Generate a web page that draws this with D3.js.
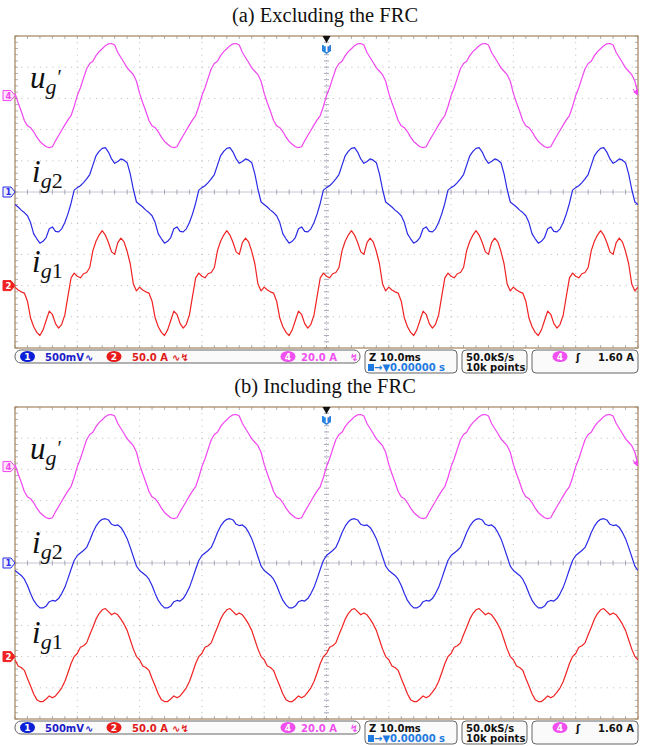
<!DOCTYPE html>
<html>
<head>
<meta charset="utf-8">
<script src="https://cdn.jsdelivr.net/npm/d3@7/dist/d3.min.js"></script>
<style>
  body { margin: 0; background: #fff; }
  svg text { font-family: "DejaVu Sans", sans-serif; }
</style>
</head>
<body>
<div id="graph"></div>
<script>
// one 20 ms grid cycle, sampled every 0.5 ms from the ch4 rising zero crossing (trigger)
var cycleMs = [0, 0.5, 1, 1.5, 2, 2.5, 3, 3.5, 4, 4.5, 5, 5.5, 6, 6.5, 7, 7.5, 8, 8.5, 9, 9.5,
               10, 10.5, 11, 11.5, 12, 12.5, 13, 13.5, 14, 14.5, 15, 15.5, 16, 16.5, 17, 17.5, 18, 18.5, 19, 19.5]

// (a) excluding the FRC
var ugA_a  = [0, 5, 11.2, 17.2, 20.6, 22, 25.6, 28.2, 30, 32, 33.2, 33.4, 32.4, 27.6, 24.4, 21.2, 17.8, 15.6, 13.4, 9.2,
              1.4, -4.6, -10, -16, -19.4, -20.6, -23.2, -26.6, -29.4, -31.2, -32.8, -33.4, -32.8, -29, -25.6, -22.2, -18.8, -15.6, -12.8, -7]
var ig2V_a = [0.07, 0.10, 0.15, 0.21, 0.28, 0.43, 0.58, 0.65, 0.70, 0.71, 0.64, 0.53, 0.46, 0.49, 0.53, 0.51, 0.47, 0.29, 0.04, -0.16,
              -0.20, -0.24, -0.29, -0.33, -0.38, -0.49, -0.67, -0.75, -0.82, -0.79, -0.73, -0.59, -0.56, -0.63, -0.64, -0.59, -0.49, -0.35, -0.18, 0.03]
var ig1A_a = [15, 12.5, 19, 21, 29, 56, 71, 81, 88, 81, 69, 54, 50, 69, 76, 70, 55, 35, 2.5, -8.5,
              -2.5, -7, -10, -12, -25, -52, -66, -75, -80, -71, -56, -41, -46, -61, -68, -62, -47, -17, 12.5, 20]

// (b) including the FRC
var ugA_b  = [0, 5, 11.2, 17.2, 20.6, 22, 25.6, 28.2, 30, 32, 33.2, 33.4, 32.4, 27.6, 24.4, 21.2, 17.8, 15.6, 13.4, 9.2,
              1.4, -4.6, -10, -16, -19.4, -20.6, -23.2, -26.6, -29.4, -31.2, -32.8, -33.4, -32.8, -29, -25.6, -22.2, -18.8, -15.6, -12.8, -7]
var ig2V_b = [0.12, 0.16, 0.20, 0.25, 0.36, 0.49, 0.59, 0.66, 0.70, 0.71, 0.69, 0.62, 0.60, 0.61, 0.57, 0.49, 0.39, 0.25, 0.10, -0.05,
              -0.12, -0.16, -0.20, -0.26, -0.36, -0.49, -0.60, -0.67, -0.72, -0.72, -0.69, -0.62, -0.60, -0.61, -0.57, -0.49, -0.39, -0.25, -0.10, 0.04]
var ig1A_b = [5, 15, 17.5, 22, 35, 47, 60, 69, 75, 77, 72, 67, 70, 67, 60, 52, 42, 27, 12, 0,
              -5, -15, -17.5, -22, -35, -47, -60, -69, -72, -72, -68, -63, -66, -63, -57, -50, -40, -26, -11, 0]

var titles = ["(a) Excluding the FRC", "(b) Including the FRC"]

// channel settings: per-division scale and ground marker offset (divisions above centre)
var channels = [
  { key: "ug",  num: "4", color: "#f046f0", perDiv: 20,  refDiv: 3.09 },
  { key: "ig2", num: "1", color: "#2a2ae6", perDiv: 0.5, refDiv: 0 },
  { key: "ig1", num: "2", color: "#f02222", perDiv: 50,  refDiv: -3.0 }
]

var width = 650, height = 746
var plotL = 15, plotR = 638, plotH = 312
var divX = (plotR - plotL) / 10, divY = plotH / 10

var svg = d3.select("#graph").append("svg")
  .attr("width", width).attr("height", height)

var x = d3.scaleLinear().domain([-50, 50]).range([plotL, plotR])
var sampleT = d3.range(-50, 50.001, 0.5)

function cycleValue(arr, t) {
  var ph = ((t % 20) + 20) % 20
  return arr[cycleMs.indexOf(Math.round(ph * 2) / 2) % cycleMs.length]
}

var panels = [
  { top: 36,  title: titles[0], ug: ugA_a, ig2: ig2V_a, ig1: ig1A_a },
  { top: 407, title: titles[1], ug: ugA_b, ig2: ig2V_b, ig1: ig1A_b }
]

panels.forEach(function(p) {
  var top = p.top, bottom = top + plotH, cy = top + plotH / 2, cx = (plotL + plotR) / 2
  var g = svg.append("g")

  // title
  g.append("text")
    .attr("x", 325).attr("y", top - 14)
    .attr("text-anchor", "middle")
    .style("font-family", "'Liberation Serif', serif")
    .style("font-size", "20.5px")
    .attr("fill", "#111")
    .text(p.title)

  // dotted grid
  d3.range(1, 10).forEach(function(i) {
    if (i === 5) return
    g.append("line").attr("x1", plotL + i * divX).attr("x2", plotL + i * divX)
      .attr("y1", top).attr("y2", bottom)
      .attr("stroke", "#b8b8b8").attr("stroke-width", 1).attr("stroke-dasharray", "1,5.23")
    g.append("line").attr("y1", top + i * divY).attr("y2", top + i * divY)
      .attr("x1", plotL).attr("x2", plotR)
      .attr("stroke", "#b8b8b8").attr("stroke-width", 1).attr("stroke-dasharray", "1,5.23")
  })

  // centre axes with minor ticks
  g.append("line").attr("x1", plotL).attr("x2", plotR).attr("y1", cy).attr("y2", cy)
    .attr("stroke", "#c4c4d0").attr("stroke-width", 1)
  g.append("line").attr("x1", cx).attr("x2", cx).attr("y1", top).attr("y2", bottom)
    .attr("stroke", "#c4c4d0").attr("stroke-width", 1).attr("stroke-dasharray", "1,2")
  d3.range(0, 51).forEach(function(i) {
    var tx = plotL + i * divX / 5
    g.append("line").attr("x1", tx).attr("x2", tx).attr("y1", cy - 2.5).attr("y2", cy + 2.5)
      .attr("stroke", "#a8a8b8").attr("stroke-width", 1)
    g.append("line").attr("x1", tx).attr("x2", tx).attr("y1", top).attr("y2", top + 3)
      .attr("stroke", "#b0b0b0").attr("stroke-width", 1)
    g.append("line").attr("x1", tx).attr("x2", tx).attr("y1", bottom - 3).attr("y2", bottom)
      .attr("stroke", "#b0b0b0").attr("stroke-width", 1)
    var ty = top + i * divY / 5
    g.append("line").attr("y1", ty).attr("y2", ty).attr("x1", cx - 2.5).attr("x2", cx + 2.5)
      .attr("stroke", "#a8a8b8").attr("stroke-width", 1)
    g.append("line").attr("y1", ty).attr("y2", ty).attr("x1", plotL).attr("x2", plotL + 3)
      .attr("stroke", "#b0b0b0").attr("stroke-width", 1)
    g.append("line").attr("y1", ty).attr("y2", ty).attr("x1", plotR - 3).attr("x2", plotR)
      .attr("stroke", "#b0b0b0").attr("stroke-width", 1)
  })

  // frame
  g.append("rect").attr("x", plotL).attr("y", top).attr("width", plotR - plotL).attr("height", plotH)
    .attr("fill", "none").attr("stroke", "#a3835f").attr("stroke-width", 1.2)

  // traces
  var clipId = "clip" + top
  svg.append("clipPath").attr("id", clipId).append("rect")
    .attr("x", plotL).attr("y", top).attr("width", plotR - plotL).attr("height", plotH)

  channels.forEach(function(ch) {
    var y = d3.scaleLinear()
      .domain([(-5 - ch.refDiv) * ch.perDiv, (5 - ch.refDiv) * ch.perDiv])
      .range([bottom, top])
    var line = d3.line()
      .x(function(t) { return x(t) })
      .y(function(t) { return y(cycleValue(p[ch.key], t)) })
    g.append("path").datum(sampleT)
      .attr("clip-path", "url(#" + clipId + ")")
      .attr("d", line)
      .attr("fill", "none").attr("stroke", ch.color).attr("stroke-width", 1.2)
      .attr("stroke-linejoin", "round")

    // ground marker on the left
    var my = y(0)
    var filled = ch.num === "2"
    g.append("path")
      .attr("d", "M3," + (my - 5) + "H11L15," + my + "L11," + (my + 5) + "H3Z")
      .attr("fill", filled ? ch.color : (ch.num === "1" ? "#eef0ff" : "#fde8fd"))
      .attr("stroke", ch.color).attr("stroke-width", 1)
    g.append("text").attr("x", 8.5).attr("y", my + 3.3)
      .attr("text-anchor", "middle")
      .style("font-size", "8.5px").style("font-weight", "bold")
      .attr("fill", filled ? "#fff" : ch.color)
      .text(ch.num)
  })

  // trigger marker at top centre
  g.append("path").attr("d", "M" + (cx - 4) + "," + top + "H" + (cx + 4) + "L" + cx + "," + (top + 7) + "Z")
    .attr("fill", "#111")
  g.append("path")
    .attr("d", "M" + (cx - 4.5) + "," + (top + 9) + "H" + (cx + 4.5) + "V" + (top + 15) +
               "L" + cx + "," + (top + 18) + "L" + (cx - 4.5) + "," + (top + 15) + "Z")
    .attr("fill", "#2a82de")
  g.append("text").attr("x", cx).attr("y", top + 16)
    .attr("text-anchor", "middle")
    .style("font-size", "8px").style("font-weight", "bold")
    .attr("fill", "#fff").text("T")

  // trigger level marker on the right
  var ly = top + 56
  g.append("path").attr("d", "M" + (plotR - 5) + "," + ly + "L" + (plotR) + "," + (ly - 3) + "V" + (ly + 3) + "Z")
    .attr("fill", "#f046f0")
  g.append("line").attr("x1", plotR - 5).attr("x2", plotR - 1).attr("y1", ly - 3).attr("y2", ly + 3)
    .attr("stroke", "#f046f0").attr("stroke-width", 1)

  // trace labels: base letter, subscript, then the prime after it
  var serif = "'Liberation Serif', serif"
  function label(tx, ty, base, parts) {
    var t = g.append("text").attr("x", tx).attr("y", ty)
      .style("font-family", serif).style("font-size", "31px")
      .style("font-style", "italic").attr("fill", "#111")
    t.append("tspan").text(base)
    parts.forEach(function(pt) {
      t.append("tspan").attr("dx", pt.dx).attr("dy", pt.dy)
        .style("font-size", pt.size + "px")
        .style("font-style", pt.italic ? "italic" : "normal")
        .text(pt.s)
    })
  }
  label(30, top + 52, "u", [
    { s: "g", dx: 0, dy: 6, size: 22, italic: true },
    { s: "\u2032", dx: 1, dy: -10, size: 20, italic: false }
  ])
  label(32, top + 146, "i", [
    { s: "g", dx: 0, dy: 6, size: 22, italic: true },
    { s: "2", dx: 0, dy: 0, size: 22, italic: false }
  ])
  label(32, top + 236, "i", [
    { s: "g", dx: 0, dy: 6, size: 22, italic: true },
    { s: "1", dx: 0, dy: 0, size: 22, italic: false }
  ])

  // status bar
  var sy = bottom + 2
  function box(bx, bw, bh, rx) {
    g.append("rect").attr("x", bx).attr("y", sy).attr("width", bw).attr("height", bh)
      .attr("rx", rx).attr("fill", "#fafafa").attr("stroke", "#666").attr("stroke-width", 1)
  }
  function txt(tx, ty, s, col, anchor) {
    g.append("text").attr("x", tx).attr("y", ty)
      .attr("text-anchor", anchor || "start")
      .style("font-size", "10px").style("font-weight", "bold")
      .attr("fill", col).text(s)
  }
  function badge(bx, num, col) {
    g.append("ellipse").attr("cx", bx).attr("cy", sy + 6.5).attr("rx", 7.5).attr("ry", 5.5).attr("fill", col)
    g.append("text").attr("x", bx).attr("y", sy + 10)
      .attr("text-anchor", "middle")
      .style("font-size", "9px").style("font-weight", "bold")
      .attr("fill", "#fff").text(num)
  }
  box(plotL, 345, 13, 6)
  badge(27.5, "1", "#0a1ed8")
  txt(45, sy + 10.5, "500mV", "#1c1cc8")
  txt(85, sy + 10.5, "\u223F", "#1c1cc8")
  badge(114, "2", "#e81a1a")
  txt(132, sy + 10.5, "50.0 A", "#e01a1a")
  txt(172, sy + 10.5, "\u223F\u21AF", "#e01a1a")
  badge(288, "4", "#f050f0")
  txt(301, sy + 10.5, "20.0 A", "#f050f0")
  txt(350, sy + 10.5, "\u21AF", "#f050f0")

  box(365, 92, 23, 4)
  txt(369, sy + 10.5, "Z 10.0ms", "#111")
  g.append("rect").attr("x", 368).attr("y", sy + 14).attr("width", 6).attr("height", 7).attr("fill", "#1f7ae0")
  txt(374, sy + 21, "\u2192\u25BC0.00000 s", "#1f7ae0")

  box(462, 65, 23, 4)
  txt(466, sy + 10.5, "50.0kS/s", "#111")
  txt(466, sy + 21, "10k points", "#111")

  box(532, 106, 23, 4)
  badge(560, "4", "#f050f0")
  txt(576, sy + 10.5, "\u0283", "#111")
  txt(634, sy + 10.5, "1.60 A", "#111", "end")
})
</script>
</body>
</html>
